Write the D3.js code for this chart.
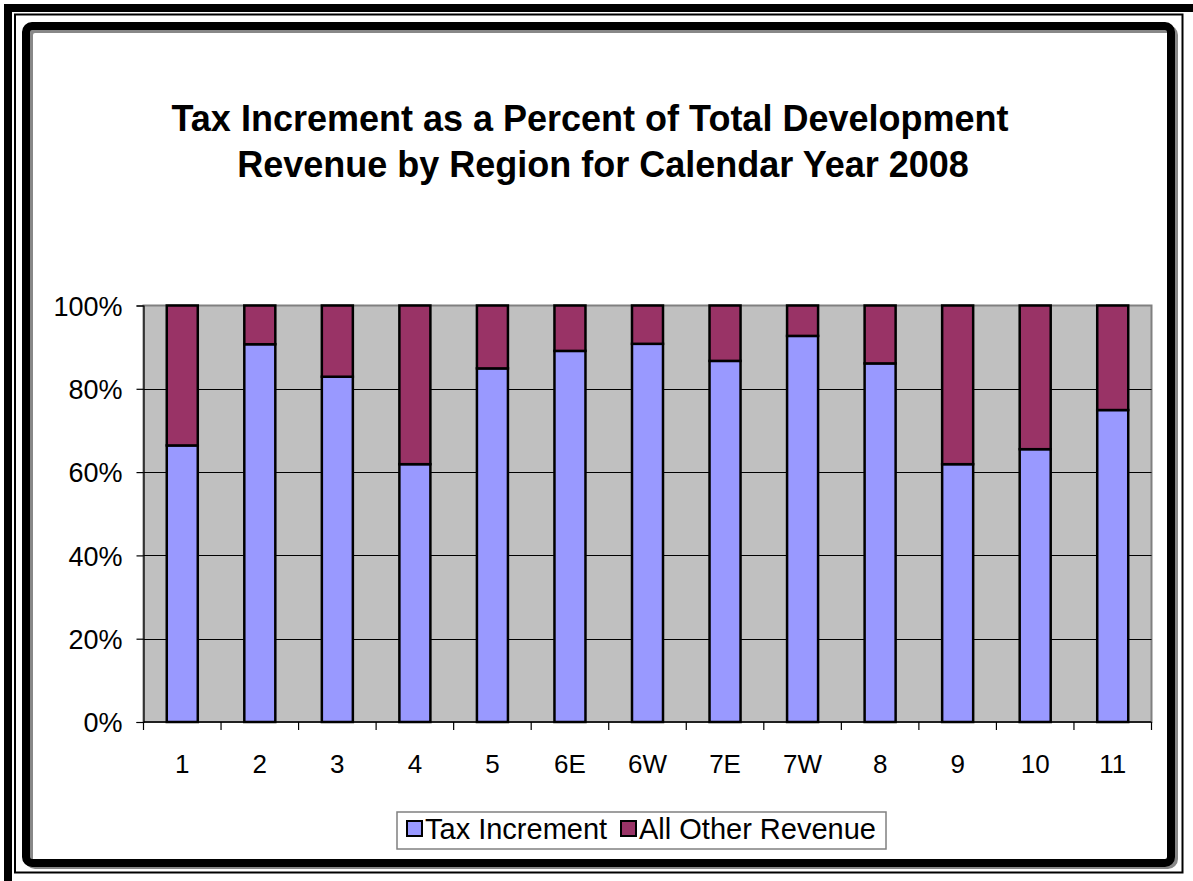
<!DOCTYPE html>
<html>
<head>
<meta charset="utf-8">
<script src="https://cdn.jsdelivr.net/npm/d3@7"></script>
<style>
  body { margin: 0; background: #fff; }
  svg { display: block; font-family: Arial, "Liberation Sans", sans-serif; }
</style>
</head>
<body>
<div id="chart"></div>
<script>
var regions = ['1', '2', '3', '4', '5', '6E', '6W', '7E', '7W', '8', '9', '10', '11'];
var taxIncrement = [66.4, 90.7, 82.9, 61.9, 84.9, 89.1, 90.8, 86.7, 92.7, 86.1, 61.9, 65.5, 74.9];
var allOther = [33.6, 9.3, 17.1, 38.1, 15.1, 10.9, 9.2, 13.3, 7.3, 13.9, 38.1, 34.5, 25.1];
var seriesNames = ['Tax Increment', 'All Other Revenue'];
var seriesColors = ['#9999ff', '#993366'];
var yTicks = [0, 20, 40, 60, 80, 100];

var W = 1193, H = 881;
var plot = {left: 143.5, right: 1151.5, top: 305.5, bottom: 722};
var font = 'Arial, "Liberation Sans", sans-serif';

var svg = d3.select('#chart').append('svg')
  .attr('width', W)
  .attr('height', H);

// outer double frame
svg.append('rect').attr('x', 8).attr('y', 8).attr('width', W - 4).attr('height', H - 4)
  .attr('fill', 'none').attr('stroke', '#000').attr('stroke-width', 8);
svg.append('rect').attr('x', 15).attr('y', 14.5).attr('width', 1167.5).attr('height', 858)
  .attr('fill', 'none').attr('stroke', '#000').attr('stroke-width', 2);

// inner rounded frame with shadow
svg.append('rect').attr('x', 29).attr('y', 29).attr('width', 1145).attr('height', 836)
  .attr('rx', 6).attr('fill', 'none').attr('stroke', '#888').attr('stroke-width', 8);
svg.append('rect').attr('x', 26).attr('y', 26).attr('width', 1145).attr('height', 837)
  .attr('rx', 6).attr('fill', 'none').attr('stroke', '#000').attr('stroke-width', 8);

// title
var title = svg.append('text')
  .attr('text-anchor', 'middle')
  .attr('font-size', 36)
  .attr('font-weight', 'bold');
title.append('tspan').attr('x', 590).attr('y', 131).text('Tax Increment as a Percent of Total Development');
title.append('tspan').attr('x', 603).attr('y', 177).text('Revenue by Region for Calendar Year 2008');

var x = d3.scaleBand()
  .domain(regions)
  .range([plot.left, plot.right])
  .paddingInner(0.6)
  .paddingOuter(0.3);

var y = d3.scaleLinear()
  .domain([0, 100])
  .range([plot.bottom, plot.top]);

// plot area
svg.append('rect')
  .attr('x', plot.left).attr('y', plot.top)
  .attr('width', plot.right - plot.left).attr('height', plot.bottom - plot.top)
  .attr('fill', '#c0c0c0').attr('stroke', '#808080').attr('stroke-width', 2);

// gridlines
svg.selectAll('line.grid')
  .data(yTicks.slice(1, -1))
  .enter().append('line')
  .attr('class', 'grid')
  .attr('x1', plot.left).attr('x2', plot.right)
  .attr('y1', function(d) { return Math.round(y(d)) + 0.5; })
  .attr('y2', function(d) { return Math.round(y(d)) + 0.5; })
  .attr('stroke', '#000').attr('stroke-width', 1.2);

// bars
var tableData = regions.map(function(r, i) {
  return {region: r, 'Tax Increment': taxIncrement[i], 'All Other Revenue': allOther[i]};
});
var stacked = d3.stack().keys(seriesNames)(tableData);

svg.selectAll('g.series')
  .data(stacked)
  .enter().append('g')
  .attr('class', 'series')
  .attr('fill', function(d, i) { return seriesColors[i]; })
  .selectAll('rect')
  .data(function(d) { return d; })
  .enter().append('rect')
  .attr('x', function(d) { return x(d.data.region); })
  .attr('width', x.bandwidth())
  .attr('y', function(d) { return y(d[1]); })
  .attr('height', function(d) { return y(d[0]) - y(d[1]); })
  .attr('stroke', '#000')
  .attr('stroke-width', 2.5);

// y axis
var yAxis = d3.axisLeft(y)
  .tickValues(yTicks)
  .tickSize(7)
  .tickPadding(14)
  .tickFormat(function(d) { return d + '%'; });
var gy = svg.append('g')
  .attr('transform', 'translate(' + plot.left + ',0)')
  .call(yAxis)
  .attr('font-size', 27)
  .attr('font-family', font);
gy.selectAll('text').attr('fill', '#000').attr('dy', '0.36em');
gy.selectAll('line, path').attr('stroke', '#000').attr('stroke-width', 1.2);

// x axis: ticks at category boundaries
var boundaries = d3.range(regions.length + 1).map(function(i) { return plot.left + i * (plot.right - plot.left) / regions.length; });
svg.append('line')
  .attr('x1', plot.left).attr('x2', plot.right)
  .attr('y1', plot.bottom).attr('y2', plot.bottom)
  .attr('stroke', '#000').attr('stroke-width', 1.5);
svg.selectAll('line.xtick')
  .data(boundaries)
  .enter().append('line')
  .attr('class', 'xtick')
  .attr('x1', function(d) { return d; }).attr('x2', function(d) { return d; })
  .attr('y1', plot.bottom).attr('y2', plot.bottom + 8)
  .attr('stroke', '#000').attr('stroke-width', 1.2);
svg.selectAll('text.xlabel')
  .data(regions)
  .enter().append('text')
  .attr('class', 'xlabel')
  .attr('x', function(d) { return x(d) + x.bandwidth() / 2; })
  .attr('y', 773)
  .attr('text-anchor', 'middle')
  .attr('font-size', 26)
  .text(function(d) { return d; });

// legend
var legend = svg.append('g');
legend.append('rect')
  .attr('x', 397).attr('y', 812).attr('width', 489).attr('height', 37)
  .attr('fill', '#fff').attr('stroke', '#808080').attr('stroke-width', 1.5);
var legendX = [407, 621];
seriesNames.forEach(function(name, i) {
  legend.append('rect')
    .attr('x', legendX[i]).attr('y', 821)
    .attr('width', 15).attr('height', 15)
    .attr('fill', seriesColors[i]).attr('stroke', '#000').attr('stroke-width', 2);
  legend.append('text')
    .attr('x', legendX[i] + 18).attr('y', 839)
    .attr('font-size', 29)
    .text(name);
});
</script>
</body>
</html>
